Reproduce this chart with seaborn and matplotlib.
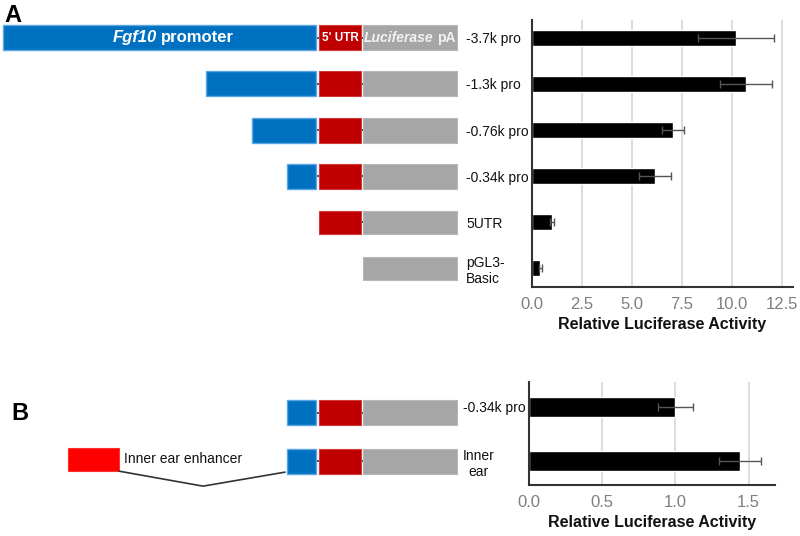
import matplotlib

matplotlib.use("Agg")

import numpy as np
import seaborn as sns
import matplotlib.pyplot as plt
from matplotlib.patches import Rectangle

# panel A: promoter deletion constructs
constructs_a = ["-3.7k pro", "-1.3k pro", "-0.76k pro", "-0.34k pro", "5UTR", "pGL3-\nBasic"]
promoter_kb_a = [3.7, 1.3, 0.76, 0.34, 0.0, 0.0]
has_utr_a = [True, True, True, True, True, False]
activity_a = [10.2, 10.7, 7.05, 6.15, 1.0, 0.42]
error_a = [1.9, 1.3, 0.55, 0.8, 0.1, 0.08]
xticks_a = [0.0, 2.5, 5.0, 7.5, 10.0, 12.5]

# panel B: inner ear enhancer
constructs_b = ["-0.34k pro", "Inner\near"]
promoter_kb_b = [0.34, 0.34]
activity_b = [1.0, 1.44]
error_b = [0.12, 0.145]
xticks_b = [0.0, 0.5, 1.0, 1.5]

BLUE = "#0070c0"
RED = "#c00000"
GREY = "#a6a6a6"
INK = "#111111"
PX_PER_KB = 84.5
PROMO_END = 316

sns.set_theme(style="whitegrid")
plt.rcParams["font.family"] = ["Liberation Sans", "DejaVu Sans"]
plt.rcParams["text.color"] = INK

fig = plt.figure(figsize=(8, 5.36), dpi=100)

diag = fig.add_axes([0, 0, 1, 1], zorder=-1)
diag.set_xlim(0, 800)
diag.set_ylim(536, 0)
diag.axis("off")

ax_a = fig.add_axes([532 / 800, 1 - 287 / 536, 261 / 800, 267 / 536])
ax_b = fig.add_axes([529 / 800, 1 - 485 / 536, 246 / 800, 103 / 536])


def bar_panel(ax, labels, vals, errs, ticks, xmax, ylim):
    sns.barplot(x=vals, y=labels, orient="h", color="black", saturation=1,
                width=0.36, ax=ax, zorder=2)
    ax.errorbar(vals, np.arange(len(vals)), xerr=errs, fmt="none", ecolor="#555555",
                elinewidth=1, capsize=3, capthick=1, zorder=3)
    ax.set_xlim(0, xmax)
    ax.set_ylim(*ylim)
    ax.set_xticks(ticks)
    ax.set_xticklabels([f"{t:.1f}" for t in ticks])
    ax.grid(axis="x", color="#d9d9d9", lw=1.3)
    ax.grid(axis="y", visible=False)
    ax.set_facecolor("none")
    for side in ["top", "right"]:
        ax.spines[side].set_visible(False)
    for side in ["left", "bottom"]:
        ax.spines[side].set_color("#333333")
        ax.spines[side].set_linewidth(1.5)
    ax.tick_params(axis="x", length=0, pad=7, labelsize=12, labelcolor="#7f7f7f")
    ax.tick_params(axis="y", length=0, pad=47.5, labelsize=10, labelcolor=INK)
    for lab in ax.get_yticklabels():
        lab.set_horizontalalignment("left")
    ax.set_ylabel("")
    ax.set_xlabel("Relative Luciferase Activity", fontsize=11.5, fontweight="bold",
                  color=INK, labelpad=4)


bar_panel(ax_a, constructs_a, activity_a, error_a, xticks_a, 13.05, (5.41, -0.39))
bar_panel(ax_b, constructs_b, activity_b, error_b, xticks_b, 1.68, (1.44, -0.46))
ax_b.get_yticklabels()[1].set_multialignment("center")


def row_y(ax, i):
    disp = ax.transData.transform((0, i))
    return diag.transData.inverted().transform(disp)[1]


def draw_construct(y, kb, utr=True, h=24):
    if utr:
        start = PROMO_END - 1 if kb > 0 else 322
        diag.plot([start, 364], [y, y], color="#333333", lw=1.2, zorder=1)
    if kb > 0:
        w = kb * PX_PER_KB
        diag.add_patch(Rectangle((PROMO_END - w, y - h / 2), w, h, fc=BLUE,
                                 ec="#5aa8e2", lw=1, zorder=2))
    if utr:
        diag.add_patch(Rectangle((319, y - h / 2), 42, h, fc=RED, ec="#d03a3a",
                                 lw=0.8, zorder=2))
    diag.add_patch(Rectangle((363, y - h / 2), 94, h, fc=GREY, ec="#b8b8b8",
                             lw=0.8, zorder=2))


for i, (kb, utr) in enumerate(zip(promoter_kb_a, has_utr_a)):
    draw_construct(row_y(ax_a, i), kb, utr, h=25 if kb > 0 else 23)

for i, kb in enumerate(promoter_kb_b):
    draw_construct(row_y(ax_b, i) + (6 if i == 0 else 0), kb, True, h=25)

# labels inside the first construct
y0 = row_y(ax_a, 0)
diag.text(157, y0, "Fgf10", color="white", fontsize=12, fontweight="bold",
          style="italic", ha="right", va="center", zorder=3)
diag.text(161, y0, "promoter", color="white", fontsize=12, fontweight="bold",
          ha="left", va="center", zorder=3)
diag.text(340, y0, "5' UTR", color="white", fontsize=8.5, fontweight="bold",
          ha="center", va="center", zorder=3)
diag.text(433, y0, "Luciferase", color="#f2f2f2", fontsize=10, fontweight="bold",
          style="italic", ha="right", va="center", zorder=3)
diag.text(437, y0, "pA", color="#f2f2f2", fontsize=10, fontweight="bold",
          ha="left", va="center", zorder=3)

# inner ear enhancer
y1 = row_y(ax_b, 1)
diag.add_patch(Rectangle((68, y1 - 13), 51, 23, fc="#ff0000", ec="#ff3030", lw=0.8))
diag.text(124, y1 - 2, "Inner ear enhancer", fontsize=10, color=INK,
          ha="left", va="center")
diag.plot([119, 203, 285], [y1 + 10, y1 + 25, y1 + 11], color="#333333", lw=1.2)

diag.text(4, 4, "A", fontsize=17, fontweight="bold", color="black",
          ha="left", va="top")
diag.text(11, 402, "B", fontsize=17, fontweight="bold", color="black",
          ha="left", va="top")

fig.savefig("out.png", dpi=100)
